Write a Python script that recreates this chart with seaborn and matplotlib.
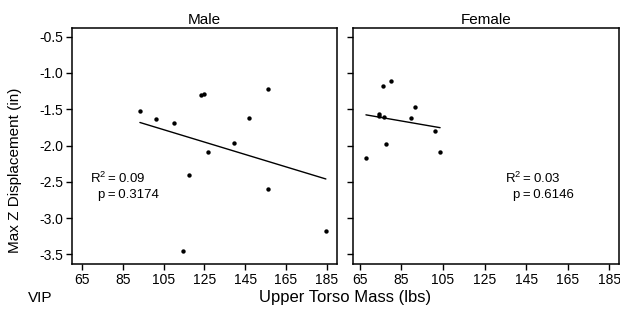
import numpy as np
import pandas as pd
import seaborn as sns
import matplotlib
matplotlib.use("Agg")
import matplotlib.pyplot as plt

# data
male_mass = [93.3, 101.0, 110.2, 123.4, 124.7, 156.3, 146.8, 139.5, 126.6, 117.4, 156.0, 114.3, 184.6]
male_disp = [-1.53, -1.635, -1.69, -1.305, -1.287, -1.214, -1.617, -1.965, -2.088, -2.413, -2.597, -3.453, -3.178]
female_mass = [67.9, 76.1, 79.9, 74.3, 74.3, 76.7, 77.4, 89.4, 91.5, 101.2, 103.6]
female_disp = [-2.176, -1.177, -1.104, -1.562, -1.594, -1.603, -1.974, -1.617, -1.466, -1.805, -2.088]

panels = ["Male", "Female"]
r2_labels = ["0.09", "0.03"]
p_labels = ["0.3174", "0.6146"]
x_ticks = [65, 85, 105, 125, 145, 165, 185]
y_ticks = [-0.5, -1.0, -1.5, -2.0, -2.5, -3.0, -3.5]

sns.set_style("ticks")
plt.rcParams["font.family"] = ["Liberation Sans", "DejaVu Sans"]
plt.rcParams["mathtext.fontset"] = "custom"
plt.rcParams["mathtext.rm"] = "Liberation Sans"
plt.rcParams["mathtext.it"] = "Liberation Sans"
for k in ["text.color", "axes.labelcolor", "xtick.color", "ytick.color", "axes.edgecolor"]:
    plt.rcParams[k] = "black"
plt.rcParams["axes.linewidth"] = 1.1
plt.rcParams["xtick.major.width"] = 1.0
plt.rcParams["ytick.major.width"] = 1.0
plt.rcParams["xtick.major.size"] = 4.5
plt.rcParams["ytick.major.size"] = 4.5

fig = plt.figure(figsize=(6.2, 3.16), dpi=100)
ax_m = fig.add_axes([0.1166, 0.1636, 0.4264, 0.7487])
ax_f = fig.add_axes([0.5698, 0.1636, 0.4285, 0.7487])

data = [(male_mass, male_disp), (female_mass, female_disp)]
xlims = [(60.1, 189.9), (61.8, 189.7)]
# baseline positions of the R^2 / p text, in data coords
ann_pos = [((68.8, -2.519), (72.7, -2.728)), ((134.8, -2.519), (138.6, -2.728))]

for i, ax in enumerate([ax_m, ax_f]):
    df = pd.DataFrame({"mass": data[i][0], "disp": data[i][1]})
    sns.regplot(data=df, x="mass", y="disp", ax=ax, ci=None, color="black",
                scatter_kws={"s": 10, "linewidths": 0, "alpha": 1},
                line_kws={"linewidth": 1.0})
    ax.set_xlim(*xlims[i])
    ax.set_ylim(-3.637, -0.376)
    ax.set_xticks(x_ticks)
    ax.set_yticks(y_ticks)
    ax.tick_params(labelsize=10, pad=2)
    ax.set_xlabel("")
    ax.set_ylabel("")
    ax.set_title(panels[i], fontsize=11, pad=3)
    for s in ax.spines.values():
        s.set_visible(True)
    (rx, ry), (px, py) = ann_pos[i]
    ax.text(rx, ry, "R$^2$\u2009=\u2009" + r2_labels[i], fontsize=9.5, va="baseline", ha="left")
    ax.text(px, py, "p\u2009=\u2009" + p_labels[i], fontsize=9.5, va="baseline", ha="left")

ax_m.set_yticklabels(["-0.5", "-1.0", "-1.5", "-2.0", "-2.5", "-3.0", "-3.5"])
ax_f.set_yticklabels([])

fig.text(0.024, 0.46, "Max Z Displacement (in)", rotation=90, fontsize=11,
         ha="center", va="center")
fig.text(0.556, 0.057, "Upper Torso Mass (lbs)", fontsize=12, ha="center", va="center")
fig.text(0.045, 0.057, "VIP", fontsize=11, ha="left", va="center")

fig.savefig("out.png", dpi=100)
